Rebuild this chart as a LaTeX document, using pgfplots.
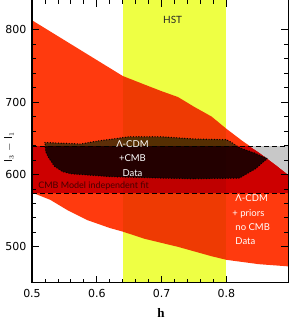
\documentclass[border=0pt]{standalone}
\usepackage{pgfplots}
\pgfplotsset{compat=1.18}
\usepackage{fontspec}
\setmainfont{DejaVu Sans}
\newfontfamily\lato{Lato}
\newfontfamily\serif{Liberation Serif}
\definecolor{cred}{RGB}{255,58,14}
\definecolor{cdred}{RGB}{205,0,0}
\definecolor{cgrey}{RGB}{200,200,200}
\definecolor{cbrown}{RGB}{92,46,8}
\definecolor{cdark}{RGB}{38,0,0}
\definecolor{cyel}{RGB}{238,255,68}
\definecolor{cmaroon}{RGB}{70,0,0}
\begin{document}
\begin{tikzpicture}
\begin{axis}[
  scale only axis, width=256pt, height=283pt,
  xmin=0.5, xmax=0.895, ymin=450, ymax=841,
  xtick={0.5,0.6,0.7,0.8}, ytick={500,600,700,800},
  xticklabels={0.5,0.6,0.7,0.8},
  minor x tick num=4, minor y tick num=4,
  tick align=inside,
  major tick length=7pt, minor tick length=4pt,
  axis line style={line width=1pt},
  every tick/.style={black, line width=0.8pt},
  axis on top=true,
  /pgf/number format/assume math mode=true,
  ticklabel style={font=\fontsize{11}{12}\selectfont},
  xticklabel style={yshift=-3pt},
  yticklabel style={xshift=-2pt},
  xlabel={\serif\bfseries h},
  xlabel style={at={(axis description cs:0.504,0)}, anchor=center, yshift=-30pt, font=\fontsize{13}{14}\selectfont},
  ylabel={l$_3$ $-$ l$_1$},
  ylabel style={at={(axis description cs:-0.09,0.48)}, anchor=center, font=\fontsize{10.5}{12}\selectfont},
]
% red region: LCDM + priors, no CMB
\addplot[fill=cred, draw=none] coordinates {
 (0.5,813)(0.55,785.5)(0.60,758)(0.64,736)(0.674,724)(0.70,715)(0.725,707)(0.751,693)(0.777,680)(0.80,663)(0.825,646)(0.851,630)(0.875,614)(0.895,600)
 (0.895,473)(0.85,476)(0.80,482)(0.777,487)(0.725,500)(0.674,511)(0.64,521)(0.62,526)(0.585,537)(0.554,551)(0.528,565)(0.5,575)} -- cycle;
% CMB model independent band (overlap with red)
\addplot[fill=cdred, draw=none] coordinates {
 (0.5,574)(0.5,639)(0.836,639)(0.851,630)(0.875,614)(0.895,600)(0.895,574)} -- cycle;
% CMB band outside red
\addplot[fill=cgrey, draw=none] coordinates {
 (0.836,639)(0.895,639)(0.895,600)(0.875,614)(0.851,630)} -- cycle;
% LCDM + CMB region
\addplot[fill=cbrown, draw=none] coordinates {
 (0.520,644)(0.55,643)(0.575,642)(0.60,646)(0.65,652)(0.70,652)(0.75,649)(0.80,648)(0.81,643)(0.82,637)(0.842,630)(0.863,622)(0.845,608)(0.82,595)(0.75,594)(0.70,595)(0.62,597)(0.56,601)(0.547,604)(0.535,611)(0.525,624)(0.521,632)} -- cycle;
\addplot[fill=cdark, draw=none] coordinates {
 (0.5206,639)(0.8167,639)(0.82,637)(0.842,630)(0.863,622)(0.845,608)(0.82,595)(0.75,594)(0.70,595)(0.62,597)(0.56,601)(0.547,604)(0.535,611)(0.525,624)(0.521,632)} -- cycle;
\addplot[black, line width=1.4pt, line cap=round, dash pattern=on 0pt off 2.7pt] coordinates {
 (0.520,644)(0.55,643)(0.575,642)(0.60,646)(0.65,652)(0.70,652)(0.75,649)(0.80,648)(0.81,643)(0.82,637)(0.842,630)(0.863,622)(0.845,608)(0.82,595)(0.75,594)(0.70,595)(0.62,597)(0.56,601)(0.547,604)(0.535,611)(0.525,624)(0.521,632)(0.520,644)};
% dashed lines
\addplot[black, line width=1.2pt, dash pattern=on 5pt off 3pt] coordinates {(0.5,639)(0.895,639)};
\addplot[black, line width=1.2pt, dash pattern=on 5pt off 3pt] coordinates {(0.5,574)(0.895,574)};
% HST band
\addplot[fill=cyel, draw=none, blend mode=multiply] coordinates {(0.64,450)(0.80,450)(0.80,841)(0.64,841)} -- cycle;
% labels
\node[font=\lato\fontsize{10}{11}\selectfont, text=black!85] at (axis cs:0.717,813) {HST};
\node[font=\lato\fontsize{9.5}{14.5}\selectfont, text=white, align=center] at (axis cs:0.655,622) {Λ-CDM\\+CMB\\Data};
\node[font=\lato\fontsize{9}{10}\selectfont, text=cmaroon] at (axis cs:0.595,583.5) {CMB Model independent fit};
\node[font=\lato\fontsize{9.5}{14.3}\selectfont, text=white, align=left, anchor=west, inner sep=0pt] at (axis cs:0.809,537) {\hspace*{3pt}Λ-CDM\\+ priors\\\hspace*{3pt}no CMB\\\hspace*{3pt}Data};
\end{axis}
\pgfresetboundingbox
\path ([xshift=-32pt,yshift=-37pt]current axis.south west) rectangle ([xshift=1pt]current axis.north east);
\end{tikzpicture}
\end{document}
